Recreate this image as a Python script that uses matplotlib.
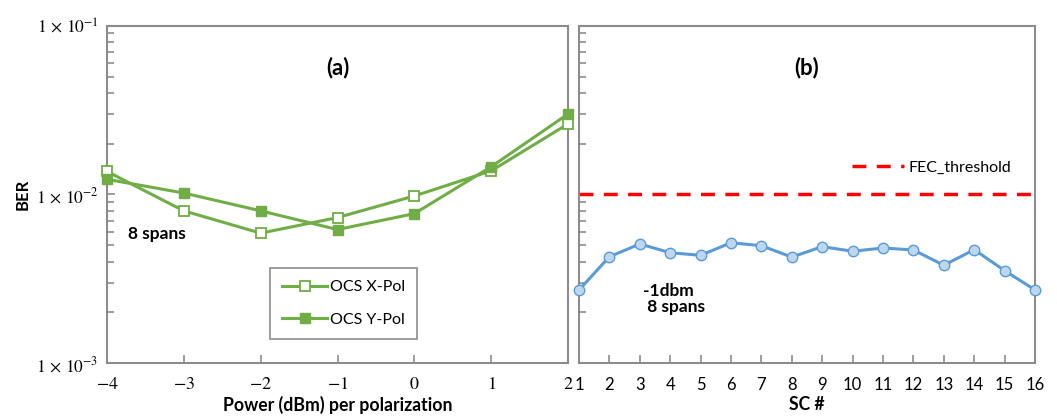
import matplotlib
matplotlib.use("Agg")
import matplotlib.pyplot as plt
from matplotlib.ticker import FixedLocator, LogLocator, NullFormatter

plt.rcParams['font.family'] = ['Lato', 'DejaVu Sans']
plt.rcParams['mathtext.fontset'] = 'stix'

# (a) BER vs launch power
power = [-4, -3, -2, -1, 0, 1, 2]
ber_x = [0.0137, 0.0080, 0.0059, 0.0073, 0.0098, 0.0138, 0.0262]
ber_y = [0.0123, 0.0102, 0.0080, 0.0062, 0.0077, 0.0146, 0.0300]

# (b) BER per subcarrier
sc = list(range(1, 17))
ber_sc = [0.00272, 0.00428, 0.00509, 0.00452, 0.00436, 0.00518, 0.00497, 0.00426,
          0.00491, 0.00461, 0.00482, 0.00469, 0.00381, 0.00471, 0.00354, 0.00272]
fec = 0.01

green = '#70AD47'
blue = '#5B9BD5'
spine_c = '#8C8C8C'

fig = plt.figure(figsize=(10.57, 4.17), dpi=100)
ax1 = fig.add_axes([0.1012, 0.1288, 0.4362, 0.8096])
ax2 = fig.add_axes([0.5478, 0.1288, 0.4314, 0.8096])

def style(ax):
    ax.set_yscale('log')
    ax.set_ylim(1e-3, 1e-1)
    for s in ax.spines.values():
        s.set_color(spine_c)
        s.set_linewidth(1.5)
    ax.yaxis.set_minor_locator(LogLocator(base=10, subs=range(2, 10)))
    ax.yaxis.set_minor_formatter(NullFormatter())
    ax.tick_params(which='both', direction='in', color=spine_c, width=1.2)
    ax.tick_params(which='major', length=6)
    ax.tick_params(which='minor', length=5)

style(ax1)
ax1.plot(power, ber_x, '-s', color=green, lw=2.2, ms=7.5, mfc='white', mec=green,
         mew=1.3, label='OCS X-Pol', clip_on=False, zorder=3)
ax1.plot(power, ber_y, '-s', color=green, lw=2.2, ms=7.5, mfc=green, mec=green,
         label='OCS Y-Pol', clip_on=False, zorder=3)
ax1.set_xlim(-4, 2)
ax1.set_xticks(power)
ax1.set_xticklabels([r'$%d$' % p if p >= 0 else r'$-%d$' % -p for p in power],
                    fontsize=13)
ax1.set_yticks([1e-3, 1e-2, 1e-1])
ax1.set_yticklabels([r'$1\,\times\,10^{-3}$', r'$1\,\times\,10^{-2}$',
                     r'$1\,\times\,10^{-1}$'], fontsize=12.5)
ax1.tick_params(axis='y', pad=6)
ax1.tick_params(axis='x', pad=9)
ax1.set_xlabel('Power (dBm) per polarization', fontsize=12.7, fontweight='bold',
               labelpad=3)
ax1.set_ylabel('BER', fontsize=12, fontweight='bold', labelpad=4)
ax1.text(0.5, 0.875, '(a)', transform=ax1.transAxes, fontsize=16,
         fontweight='bold', ha='center', va='center')
ax1.text(-3.73, 0.0058, '8 spans', fontsize=12.5, fontweight='bold',
         ha='left', va='center')
leg1 = ax1.legend(loc='lower left', bbox_to_anchor=(0.354, 0.072), fontsize=11.5,
                  fancybox=False, edgecolor=spine_c, handlelength=2.8,
                  borderpad=0.75, labelspacing=1.15, handletextpad=0.2,
                  borderaxespad=0, framealpha=1)
leg1.get_frame().set_linewidth(1.2)

style(ax2)
ax2.axhline(fec, color='#FF0000', lw=2.5, ls=(0, (4, 3)), label='FEC_threshold')
ax2.plot(sc, ber_sc, '-o', color=blue, lw=2.2, ms=7.5, mfc='#BDD7EE', mec=blue,
         mew=1.0, clip_on=False, zorder=3)
ax2.set_xlim(1, 16)
ax2.set_xticks(sc)
ax2.set_xticklabels([str(s) for s in sc], fontsize=12)
ax2.tick_params(axis='x', pad=10)
ax2.yaxis.set_major_locator(FixedLocator([1e-3, 1e-2, 1e-1]))
ax2.set_yticklabels([])
ax2.set_xlabel('SC #', fontsize=12.7, fontweight='bold', labelpad=2)
ax2.text(0.5, 0.875, '(b)', transform=ax2.transAxes, fontsize=16,
         fontweight='bold', ha='center', va='center')
ax2.text(3.1, 0.0024, '-1dbm\n 8 spans', fontsize=12.5, fontweight='bold',
         ha='left', va='center', linespacing=0.95)
ax2.legend(loc='center left', bbox_to_anchor=(0.568, 0.58), frameon=False,
           fontsize=11.5, handlelength=3.2, handletextpad=0.3)

fig.savefig('out.png', dpi=100)
